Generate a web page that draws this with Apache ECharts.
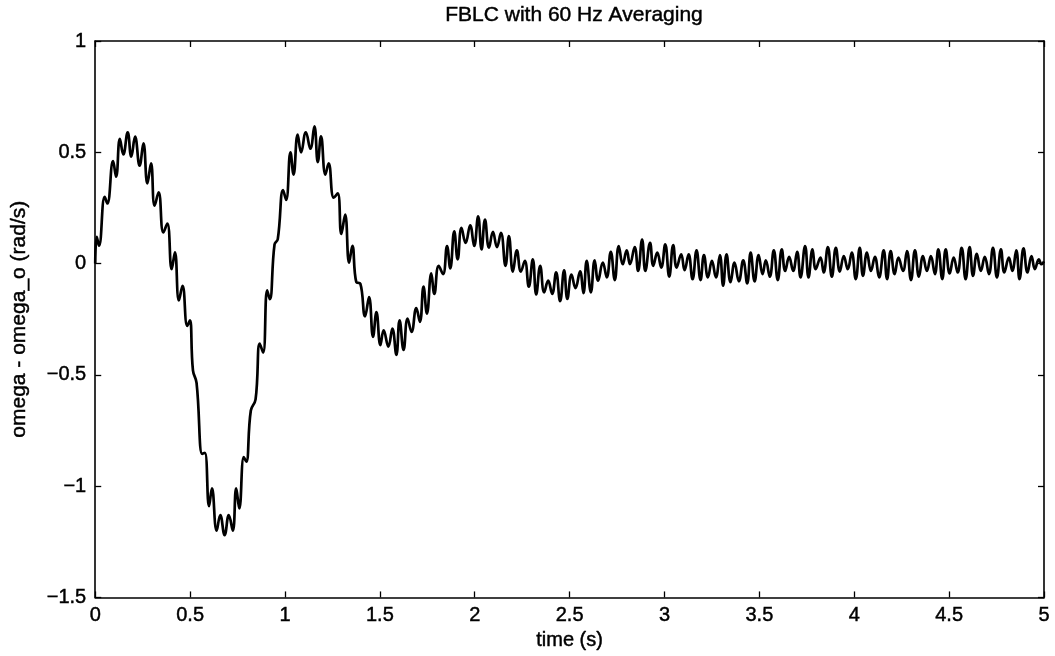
<!DOCTYPE html>
<html>
<head>
<meta charset="utf-8">
<script src="https://cdn.jsdelivr.net/npm/echarts@6/dist/echarts.min.js"></script>
<style>
html,body{margin:0;padding:0;background:#fff;}
#chart{width:1055px;height:656px;}
</style>
</head>
<body>
<div id="chart"></div>
<script>
// Time (s) of each read point (peaks, troughs and shoulders of the trace)
const times = [
0.000,0.008,0.020,0.050,0.064,0.094,0.110,0.130,0.148,0.171,0.190,0.210,0.234,0.254,0.275,0.294,0.313,0.334,0.359,0.380,
0.403,0.420,0.441,0.460,0.485,0.499,0.515,0.534,0.564,0.578,0.600,0.615,0.640,0.659,0.682,0.704,0.725,0.743,0.759,0.783,
0.796,0.820,0.845,0.867,0.885,0.906,0.920,0.945,0.962,0.990,1.006,1.029,1.045,1.067,1.085,1.110,1.134,1.155,1.173,1.190,
1.213,1.230,1.257,1.278,1.297,1.317,1.338,1.355,1.376,1.397,1.422,1.443,1.464,1.482,1.503,1.520,1.545,1.566,1.587,1.604,
1.625,1.646,1.667,1.692,1.711,1.730,1.748,1.771,1.787,1.810,1.833,1.854,1.871,1.892,1.910,1.930,1.952,1.976,1.997,2.018,
2.036,2.054,2.075,2.096,2.117,2.138,2.162,2.180,2.201,2.222,2.243,2.264,2.285,2.306,2.324,2.345,2.366,2.387,2.408,2.429,
2.450,2.471,2.488,2.510,2.531,2.555,2.573,2.590,2.612,2.632,2.650,2.675,2.696,2.717,2.738,2.759,2.780,2.801,2.818,2.843,
2.861,2.882,2.899,2.924,2.941,2.962,2.983,3.004,3.025,3.046,3.064,3.088,3.106,3.127,3.148,3.169,3.190,3.208,3.229,3.250,
3.271,3.292,3.309,3.327,3.348,3.369,3.392,3.415,3.436,3.454,3.475,3.496,3.517,3.534,3.555,3.576,3.597,3.618,3.636,3.657,
3.678,3.699,3.717,3.741,3.759,3.780,3.797,3.822,3.839,3.861,3.882,3.903,3.924,3.945,3.966,3.987,4.008,4.029,4.046,4.067,
4.088,4.109,4.131,4.155,4.173,4.192,4.213,4.233,4.257,4.278,4.299,4.320,4.341,4.362,4.383,4.404,4.425,4.443,4.464,4.482,
4.503,4.524,4.545,4.566,4.587,4.608,4.626,4.646,4.667,4.688,4.710,4.731,4.752,4.773,4.791,4.815,4.833,4.854,4.871,4.892,
4.913,4.934,4.952,4.973,4.987,5.000
];
// omega - omega_o (rad/s) at those times
const omegaDev = [
0.000,0.120,0.080,0.300,0.270,0.460,0.390,0.560,0.490,0.590,0.480,0.570,0.440,0.540,0.360,0.450,0.260,0.320,0.140,0.180,
-0.025,0.050,-0.166,-0.100,-0.280,-0.255,-0.480,-0.536,-0.855,-0.850,-1.090,-1.010,-1.200,-1.130,-1.220,-1.130,-1.200,-1.010,-1.100,-0.870,
-0.890,-0.660,-0.610,-0.360,-0.400,-0.120,-0.160,0.086,0.110,0.330,0.286,0.500,0.400,0.580,0.500,0.590,0.516,0.616,0.456,0.572,
0.400,0.450,0.296,0.315,0.133,0.220,0.004,0.080,-0.084,-0.090,-0.237,-0.151,-0.329,-0.218,-0.366,-0.300,-0.373,-0.292,-0.410,-0.255,
-0.388,-0.247,-0.307,-0.200,-0.262,-0.104,-0.225,-0.044,-0.136,-0.010,-0.047,0.079,-0.022,0.145,0.019,0.160,0.093,0.172,0.079,0.212,
0.064,0.197,0.071,0.142,0.074,0.138,-0.010,0.123,-0.036,0.059,-0.036,0.012,-0.104,0.019,-0.139,-0.010,-0.129,-0.077,-0.136,-0.040,
-0.169,-0.030,-0.159,-0.050,-0.110,-0.035,-0.133,0.012,-0.129,0.015,-0.077,0.004,-0.062,0.053,-0.074,0.079,-0.003,0.059,-0.003,0.074,
-0.033,0.108,-0.033,0.093,-0.010,0.049,-0.018,0.086,-0.059,0.083,-0.018,0.041,-0.030,0.041,-0.070,0.059,-0.074,0.038,-0.062,0.012,
-0.062,0.038,-0.099,0.041,-0.084,0.004,-0.080,0.015,-0.089,0.049,-0.080,0.038,-0.047,0.015,-0.059,0.059,-0.074,0.064,-0.033,0.030,
-0.033,0.053,-0.062,0.079,-0.062,0.064,-0.025,0.027,-0.040,0.074,-0.059,0.071,-0.036,0.034,-0.025,0.049,-0.070,0.071,-0.055,0.049,
-0.033,0.030,-0.062,0.059,-0.070,0.056,-0.047,0.027,-0.033,0.056,-0.074,0.059,-0.059,0.034,-0.033,0.034,-0.047,0.064,-0.070,0.064,
-0.044,0.027,-0.040,0.071,-0.070,0.074,-0.055,0.044,-0.033,0.030,-0.047,0.071,-0.062,0.064,-0.040,0.027,-0.033,0.059,-0.070,0.068,
-0.040,0.034,-0.025,0.019,-0.003,0.010
];
const xTicks = ['0','0.5','1','1.5','2','2.5','3','3.5','4','4.5','5'];
const yTicks = ['−1.5','−1','−0.5','0','0.5','1'];

const seriesData = times.map((t, i) => [t, omegaDev[i]]);
const FONT = '"Liberation Sans", Arial, Helvetica, sans-serif';
const txt = (size) => ({color: '#000', fontSize: size, fontFamily: FONT,
  textBorderColor: '#000', textBorderWidth: 0.45});

const chart = echarts.init(document.getElementById('chart'), null, {renderer: 'canvas'});
const axisLine = {show: true, onZero: false, lineStyle: {color: '#000', width: 1.6}};
const axisTick = {show: true, inside: true, length: 6, lineStyle: {color: '#000', width: 1.3}};
const xLabel = Object.assign(txt(20), {show: true, margin: 8,
  formatter: v => xTicks[Math.round(v / 0.5)]});
const yLabel = Object.assign(txt(20), {show: true, margin: 9,
  formatter: v => yTicks[Math.round((v + 1.5) / 0.5)]});
chart.setOption({
  animation: false,
  backgroundColor: '#fff',
  title: {
    text: 'FBLC with 60 Hz Averaging',
    left: 569, top: 0, textAlign: 'center',
    textStyle: Object.assign(txt(21), {fontWeight: 'normal'})
  },
  grid: {left: 95, right: 11, top: 41, bottom: 53, containLabel: false},
  xAxis: [
    {type: 'value', min: 0, max: 5, interval: 0.5, position: 'bottom',
     axisLine, axisTick, axisLabel: xLabel, splitLine: {show: false},
     name: 'time (s)', nameLocation: 'middle', nameGap: 30,
     nameTextStyle: txt(20)},
    {type: 'value', min: 0, max: 5, interval: 0.5, position: 'top',
     axisLine, axisTick, axisLabel: {show: false}, splitLine: {show: false}}
  ],
  yAxis: [
    {type: 'value', min: -1.5, max: 1, interval: 0.5, position: 'left',
     axisLine, axisTick, axisLabel: yLabel, splitLine: {show: false},
     name: 'omega - omega_o (rad/s)', nameLocation: 'middle', nameGap: 66, nameRotate: 90,
     nameTextStyle: txt(21)},
    {type: 'value', min: -1.5, max: 1, interval: 0.5, position: 'right',
     axisLine, axisTick, axisLabel: {show: false}, splitLine: {show: false}}
  ],
  series: [{
    type: 'line', xAxisIndex: 0, yAxisIndex: 0, data: seriesData,
    showSymbol: false, smooth: 0.45,
    lineStyle: {color: '#000', width: 2.7}
  }]
});
</script>
</body>
</html>
